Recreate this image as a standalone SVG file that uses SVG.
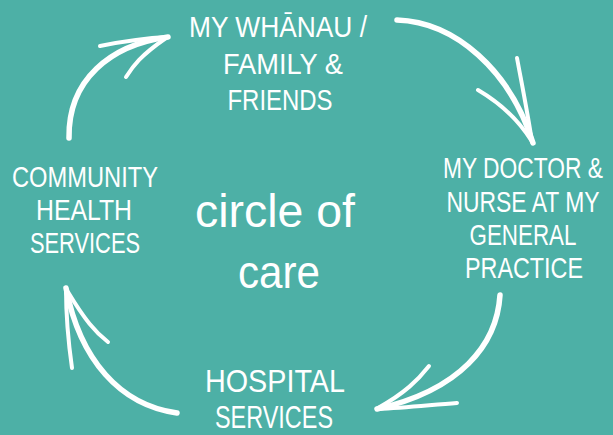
<svg xmlns="http://www.w3.org/2000/svg" width="613" height="435" viewBox="0 0 613 435">
  <style>
    .bg { fill: #4DB0A6; }
    .label { fill: #FFFFFF; font-family: "Liberation Sans Narrow", "Liberation Sans", "Noto Sans", sans-serif; font-size: 29px; text-anchor: middle; }
    .big { font-size: 47px; }
    .mid { font-size: 32px; }
    .tight { font-size: 25px; }
    .tighter { font-size: 23px; }
    .shaft { fill: none; stroke: #FFFFFF; stroke-width: 5.5; stroke-linecap: round; stroke-linejoin: round; }
    .barb { fill: none; stroke: #FFFFFF; stroke-width: 4; stroke-linecap: round; stroke-linejoin: round; }
  </style>

  <rect class="bg" x="0" y="0" width="613" height="435"/>

  <!-- hand-drawn arrows running clockwise round the circle -->
  <g id="connectors">
    <g id="arrow-family-to-doctor">
      <path class="shaft" d="M397,20 C455,22 510,70 533,143"/>
      <path class="barb" d="M517,58 C522,85 528,115 532,142"/>
      <path class="barb" d="M478,90 C495,100 515,115 531,140"/>
    </g>
    <g id="arrow-doctor-to-hospital">
      <path class="shaft" d="M500,295 C497,345 460,390 377,409"/>
      <path class="barb" d="M429,366 C418,380 405,393 378,408"/>
      <path class="barb" d="M457,403 C430,405 405,408 378,409"/>
    </g>
    <g id="arrow-hospital-to-community">
      <path class="shaft" d="M177,413 C120,405 80,360 66,288"/>
      <path class="barb" d="M72,368 C68,340 66,315 66,289"/>
      <path class="barb" d="M108,342 C95,332 85,320 68,292"/>
    </g>
    <g id="arrow-community-to-family">
      <path class="shaft" d="M69,138 C68,80 110,45 168,37"/>
      <path class="barb" d="M100,46 C125,41 145,38 167,37"/>
      <path class="barb" d="M126,77 C133,66 140,56 166,38"/>
    </g>
  </g>

  <g id="node-family">
    <text class="label" x="278" y="37" textLength="178" lengthAdjust="spacingAndGlyphs">MY WHĀNAU /</text>
    <text class="label" x="283" y="74" textLength="120" lengthAdjust="spacingAndGlyphs">FAMILY &amp;</text>
    <text class="label" x="280" y="110" textLength="105" lengthAdjust="spacingAndGlyphs">FRIENDS</text>
  </g>

  <g id="node-doctor">
    <!-- the two widest lines are set smaller and stretched upright to keep the cap height -->
    <text class="label tighter" transform="translate(523,178) scale(1,1.26)" x="0" y="0" textLength="160" lengthAdjust="spacingAndGlyphs">MY DOCTOR &amp;</text>
    <text class="label tight" transform="translate(523,212) scale(1,1.16)" x="0" y="0" textLength="153" lengthAdjust="spacingAndGlyphs">NURSE AT MY</text>
    <text class="label" x="523" y="245" textLength="107" lengthAdjust="spacingAndGlyphs">GENERAL</text>
    <text class="label" x="524" y="278" textLength="118" lengthAdjust="spacingAndGlyphs">PRACTICE</text>
  </g>

  <g id="node-hospital">
    <text class="label mid" x="275" y="392" textLength="140" lengthAdjust="spacingAndGlyphs">HOSPITAL</text>
    <text class="label mid" x="274" y="428" textLength="118" lengthAdjust="spacingAndGlyphs">SERVICES</text>
  </g>

  <g id="node-community">
    <text class="label" x="85" y="187" textLength="146" lengthAdjust="spacingAndGlyphs">COMMUNITY</text>
    <text class="label" x="84" y="220" textLength="96" lengthAdjust="spacingAndGlyphs">HEALTH</text>
    <text class="label" x="85" y="253" textLength="110" lengthAdjust="spacingAndGlyphs">SERVICES</text>
  </g>

  <g id="node-centre">
    <text class="label big" x="275" y="227" textLength="160" lengthAdjust="spacingAndGlyphs">circle of</text>
    <text class="label big" x="279" y="288" textLength="82" lengthAdjust="spacingAndGlyphs">care</text>
  </g>
</svg>
